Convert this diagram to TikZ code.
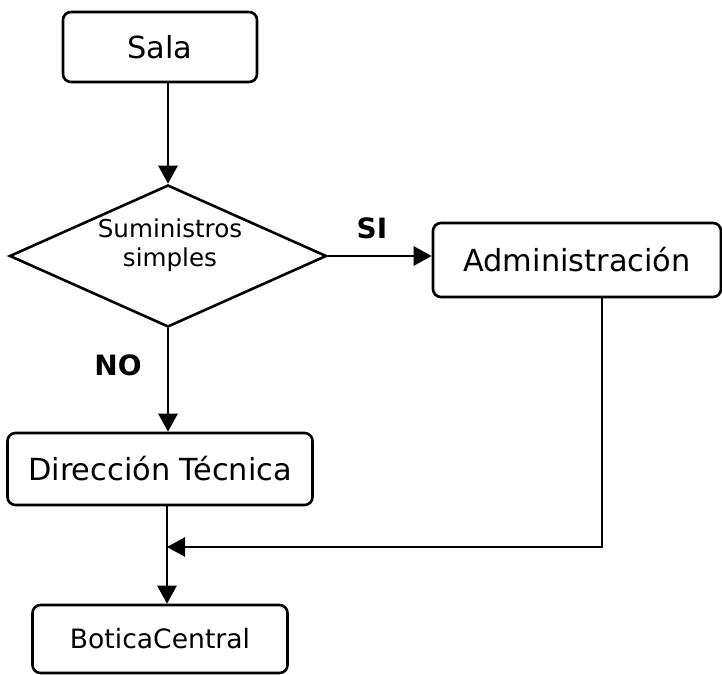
\documentclass[tikz,border=0pt]{standalone}
\usepackage{fontspec}
\setmainfont{DejaVu Sans}
\usetikzlibrary{shapes.geometric,arrows.meta}
\begin{document}
\begin{tikzpicture}[x=0.5pt,y=-0.5pt,
  box/.style={draw,line width=1.3pt,rounded corners=4pt,inner sep=0pt,font=\fontsize{15.2}{17}\selectfont},
  arr/.style={line width=1.3pt,-{Triangle[length=9pt,width=9.5pt]}},
  lab/.style={font=\bfseries\fontsize{14}{16}\selectfont}]
\useasboundingbox (0,0) rectangle (722,674);
\node[box,minimum width=97pt,minimum height=35pt] (sala) at (160,47) {Sala};
\node[draw,line width=1.3pt,diamond,minimum width=158.5pt,minimum height=71pt,inner sep=0pt] (dec) at (168,256) {};
\node[align=center,inner sep=0pt,font=\fontsize{12.3}{14.5}\selectfont] (dect) at (170,245) {Suministros\\simples};
\node[box,minimum width=144pt,minimum height=37pt] (adm) at (577,260) {Administración};
\node[box,minimum width=152.5pt,minimum height=36pt] (dir) at (160,469) {Dirección Técnica};
\node[box,minimum width=127.5pt,minimum height=34pt,font=\fontsize{13.3}{16}\selectfont] (bot) at (160,639) {BoticaCentral};
\coordinate (j) at (167,547);
\coordinate (rx) at (602,547);
\node[lab] (si) at (372,228) {SI};
\node[lab] (no) at (118,365) {NO};
\draw[arr] (dec.north |- sala.south) -- (dec.north);
\draw[arr] (dec.east) -- (dec.east -| adm.west);
\draw[arr] (dec.south) -- (dec.south |- dir.north);
\draw[arr] (dir.south -| j) -- (bot.north -| j);
\draw[arr] (adm.south -| rx) |- (j);
\end{tikzpicture}
\end{document}
